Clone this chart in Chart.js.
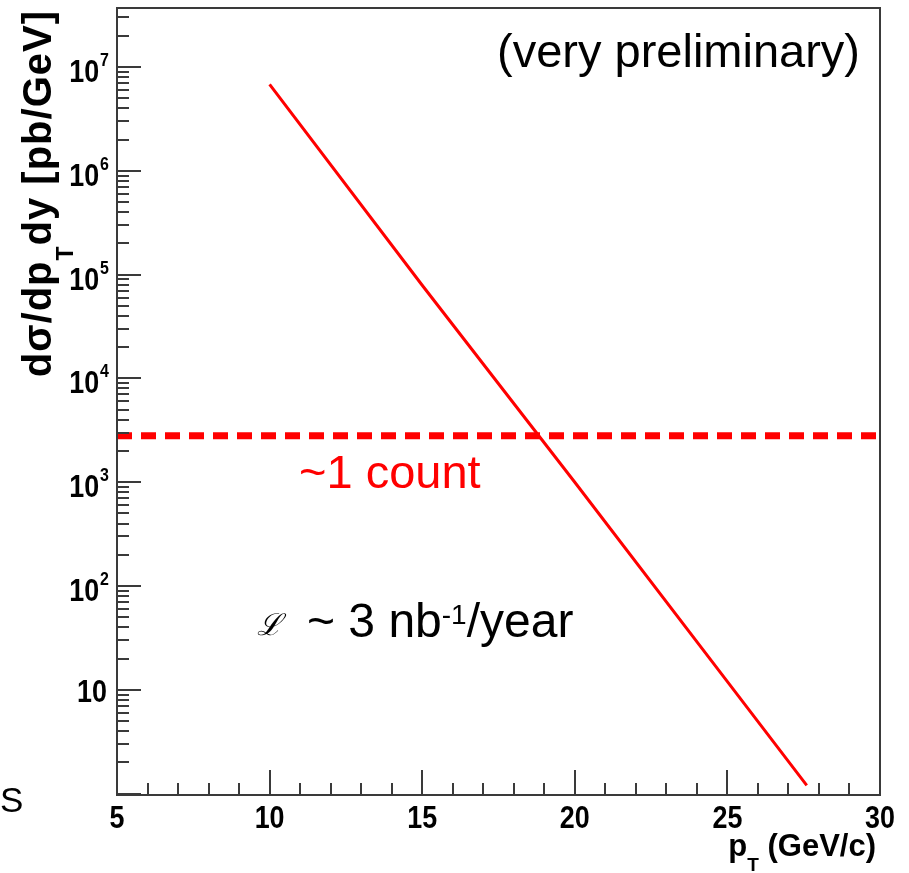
<!DOCTYPE html>
<html>
<head>
<meta charset="utf-8">
<script src="https://cdn.jsdelivr.net/npm/chart.js@4.4.0/dist/chart.umd.min.js"></script>
<style>
  html, body { margin: 0; padding: 0; background: #fff; }
  canvas { display: block; }
</style>
</head>
<body>
<canvas id="xsec" width="909" height="873"></canvas>
<script>
// pT spectrum
const pTValues = [10, 15, 20, 25, 27.6];
const xsecValues = [6.8e6, 7.9e4, 1.0e3, 12, 1.2];

// "~1 count" level
const countPT = [5, 30];
const countLevel = [2800, 2800];

// axes
const xTickValues = [5, 10, 15, 20, 25, 30];
const xTickLabels = ['5', '10', '15', '20', '25', '30'];
const yTickValues = [10, 100, 1e3, 1e4, 1e5, 1e6, 1e7];
const yTickExponents = ['', '2', '3', '4', '5', '6', '7'];

const FONT = "'Liberation Sans', Arial, sans-serif";
const FRAME = '#3a3a3a';
const RED = '#ff0000';
const SQUEEZE = 0.84; // ROOT's helvetica-bold looks narrow

function piecesWidth(ctx, pieces) {
    let total = 0;
    pieces.forEach(p => { ctx.font = p.font; total += ctx.measureText(p.text).width; });
    return total;
}
// draw a run of text pieces (different sizes / offsets) starting at x
function drawPieces(ctx, pieces, x, y) {
    let cx = x;
    pieces.forEach(p => {
        ctx.font = p.font;
        ctx.fillText(p.text, cx, y + (p.dy || 0));
        cx += ctx.measureText(p.text).width;
    });
}
// horizontally squeezed text, returns drawn width
function narrowText(ctx, text, x, y, font, align) {
    ctx.save();
    ctx.font = font;
    ctx.textAlign = align;
    ctx.translate(x, y);
    ctx.scale(SQUEEZE, 1);
    ctx.fillText(text, 0, 0);
    const w = ctx.measureText(text).width * SQUEEZE;
    ctx.restore();
    return w;
}

// ROOT-like frame: inward ticks, box, labels, titles and annotations
const rootFrame = {
    id: 'rootFrame',
    afterDraw(chart) {
        const { ctx, chartArea: a, scales: { x, y } } = chart;
        ctx.save();

        // tick marks inside the frame
        ctx.strokeStyle = FRAME;
        ctx.lineWidth = 2;
        ctx.beginPath();
        for (let v = x.min; v <= x.max; v++) {
            const px = Math.round(x.getPixelForValue(v));
            const len = v % 5 === 0 ? 25 : 12;
            ctx.moveTo(px, a.bottom);
            ctx.lineTo(px, a.bottom - len);
        }
        for (let d = 1; d <= y.max; d *= 10) {
            for (let m = 1; m <= 9; m++) {
                const v = m * d;
                if (v < y.min || v > y.max) continue;
                const py = Math.round(y.getPixelForValue(v));
                const len = m === 1 ? 24 : 12;
                ctx.moveTo(a.left, py);
                ctx.lineTo(a.left + len, py);
            }
        }
        ctx.stroke();
        ctx.strokeRect(a.left, a.top, a.right - a.left, a.bottom - a.top);

        ctx.fillStyle = '#000';
        ctx.textBaseline = 'alphabetic';

        // y tick labels 10^n
        const big = `bold 32px ${FONT}`;
        const sup = `bold 19px ${FONT}`;
        yTickValues.forEach((v, i) => {
            const py = y.getPixelForValue(v);
            const exp = yTickExponents[i];
            if (!exp) {
                narrowText(ctx, '10', 107, py + 12, big, 'right');
                return;
            }
            const ew = narrowText(ctx, exp, 109, py - 1, sup, 'right');
            narrowText(ctx, '10', 108 - ew, py + 15, big, 'right');
        });

        // x tick labels
        xTickValues.forEach((v, i) => {
            narrowText(ctx, xTickLabels[i], x.getPixelForValue(v), 828, big, 'center');
        });

        ctx.textAlign = 'left';

        // x title
        const xt = [
            { text: 'p', font: `bold 31px ${FONT}` },
            { text: 'T', font: `bold 19px ${FONT}`, dy: 15 },
            { text: ' (GeV/c)', font: `bold 31px ${FONT}` }
        ];
        drawPieces(ctx, xt, 876 - piecesWidth(ctx, xt), 856);

        // y title, rotated, ending near the top
        ctx.letterSpacing = '1px';
        const yt = [
            { text: 'dσ/dp', font: `bold 40px ${FONT}` },
            { text: 'T', font: `bold 23px ${FONT}`, dy: 22 },
            { text: 'dy [pb/GeV]', font: `bold 40px ${FONT}` }
        ];
        const yw = piecesWidth(ctx, yt);
        ctx.save();
        ctx.translate(51, 10 + yw);
        ctx.rotate(-Math.PI / 2);
        drawPieces(ctx, yt, 0, 0);
        ctx.restore();
        ctx.letterSpacing = '0px';

        // annotations
        ctx.font = `47px ${FONT}`;
        ctx.textAlign = 'right';
        ctx.fillText('(very preliminary)', 860, 67);
        ctx.textAlign = 'left';
        ctx.fillStyle = RED;
        ctx.fillText('~1 count', 299, 488);

        ctx.fillStyle = '#000';
        ctx.font = `italic 30px 'DejaVu Serif', serif`;
        ctx.fillText('ℒ', 257, 635);
        drawPieces(ctx, [
            { text: '~ 3 nb', font: `48px ${FONT}` },
            { text: '-1', font: `28px ${FONT}`, dy: -13 },
            { text: '/year', font: `48px ${FONT}` }
        ], 307, 637);

        // stray letter at the left edge of the slide
        ctx.font = `35px ${FONT}`;
        ctx.fillText('S', 0, 812);

        ctx.restore();
    }
};

const ctx = document.getElementById('xsec');
new Chart(ctx, {
    type: 'line',
    data: {
        datasets: [
            {
                label: 'dsigma/dpT',
                data: pTValues.map((v, i) => ({ x: v, y: xsecValues[i] })),
                borderColor: RED,
                borderWidth: 3,
                pointRadius: 0,
                tension: 0,
                fill: false
            },
            {
                label: '~1 count',
                data: countPT.map((v, i) => ({ x: v, y: countLevel[i] })),
                borderColor: RED,
                borderWidth: 7,
                borderDash: [15, 9],
                pointRadius: 0,
                fill: false
            }
        ]
    },
    options: {
        responsive: false,
        animation: false,
        layout: { padding: { top: 8, right: 29, left: 0, bottom: 0 } },
        plugins: {
            legend: { display: false },
            tooltip: { enabled: false }
        },
        scales: {
            x: {
                type: 'linear',
                min: 5,
                max: 30,
                grid: { display: false, drawTicks: false },
                border: { display: false },
                afterBuildTicks: s => { s.ticks = xTickValues.map(v => ({ value: v })); },
                afterFit: s => { s.height = 78; s.paddingLeft = 0; s.paddingRight = 0; },
                ticks: { display: false }
            },
            y: {
                type: 'logarithmic',
                min: 0.97,
                max: 3.7e7,
                grid: { display: false, drawTicks: false },
                border: { display: false },
                afterBuildTicks: s => { s.ticks = yTickValues.map(v => ({ value: v })); },
                afterFit: s => { s.width = 117; s.paddingTop = 0; s.paddingBottom = 0; },
                ticks: { display: false }
            }
        }
    },
    plugins: [rootFrame]
});
</script>
</body>
</html>
